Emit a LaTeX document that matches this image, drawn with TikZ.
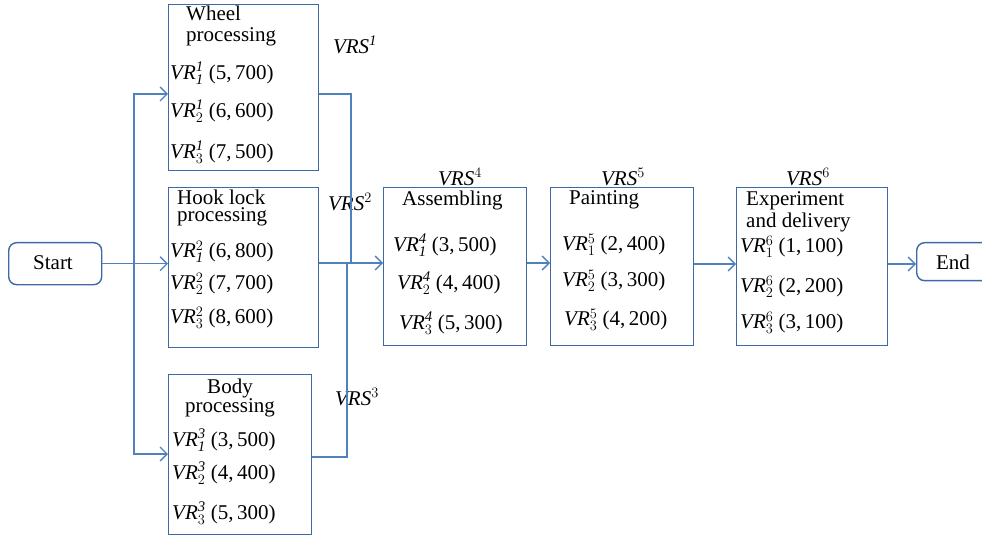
\documentclass[tikz,border=0pt]{standalone}
\usepackage{fontspec}
\setmainfont{Liberation Serif}
\usetikzlibrary{arrows.meta}
\definecolor{boxc}{HTML}{3F68A6}
\definecolor{linec}{HTML}{4F81BD}
\tikzset{
  procbox/.style={draw=boxc, line width=1.4pt, rectangle, inner sep=0pt, anchor=north west},
  term/.style={draw=boxc, line width=1.4pt, rounded corners=8pt, inner sep=0pt, anchor=north west},
  conn/.style={draw=linec, line width=1.3pt},
  arr/.style={conn, -{Straight Barb[length=7pt,width=14pt,line width=1.3pt]}},
  txt/.style={inner sep=0pt, font=\fontsize{21}{22}\selectfont},
  lft/.style={txt, anchor=west},
}
\newcommand\vrl[4]{\textit{VR}$^{#1}_{#2}$ (#3,\,#4)}
\begin{document}
\begin{tikzpicture}[x=1pt,y=-1pt]
\useasboundingbox (0,0) rectangle (982,537);
% boxes
\node[term, minimum width=93pt, minimum height=42pt] (start) at (8,242) {};
\node[txt] (starttxt) at (53,263) {Start};
\node[term, minimum width=80pt, minimum height=38pt] (end) at (916,242) {};
\node[txt] (endtxt) at (953,262) {End};
\node[procbox, minimum width=150pt, minimum height=166pt] (wheel) at (168,4) {};
\node[procbox, minimum width=150pt, minimum height=160pt] (hook) at (168,187) {};
\node[procbox, minimum width=143pt, minimum height=160pt] (body) at (168,374) {};
\node[procbox, minimum width=143pt, minimum height=158pt] (asm) at (383,187) {};
\node[procbox, minimum width=143pt, minimum height=158pt] (paint) at (550,187) {};
\node[procbox, minimum width=151pt, minimum height=158pt] (exp) at (736,187) {};
% texts wheel
\node[lft, align=left, font=\fontsize{21}{21}\selectfont] (w1) at (186,25.5) {Wheel\\processing};
\node[lft] (w3) at (170,73) {\vrl{\mathit{1}}{\mathit{1}}{5}{700}};
\node[lft] (w4) at (170,111) {\vrl{\mathit{1}}{2}{6}{600}};
\node[lft] (w5) at (170,152) {\vrl{\mathit{1}}{3}{7}{500}};
% hook
\node[lft, align=left, font=\fontsize{21}{17.5}\selectfont] (h1) at (177,208) {Hook lock\\processing};
\node[lft] (h3) at (170,252) {\vrl{2}{\mathit{1}}{6}{800}};
\node[lft] (h4) at (170,284) {\vrl{2}{2}{7}{700}};
\node[lft] (h5) at (170,318) {\vrl{2}{3}{8}{600}};
% body
\node[txt, align=center, font=\fontsize{21}{19}\selectfont] (b1) at (230,397.5) {Body\\processing};
\node[lft] (b3) at (172,440) {\vrl{\mathit{3}}{\mathit{1}}{3}{500}};
\node[lft] (b4) at (172,473) {\vrl{\mathit{3}}{2}{4}{400}};
\node[lft] (b5) at (172,513) {\vrl{\mathit{3}}{3}{5}{300}};
% assembling
\node[lft] (a1) at (402,200) {Assembling};
\node[lft] (a3) at (393,245) {\vrl{\mathit{4}}{\mathit{1}}{3}{500}};
\node[lft] (a4) at (397,283) {\vrl{\mathit{4}}{2}{4}{400}};
\node[lft] (a5) at (399,323) {\vrl{\mathit{4}}{3}{5}{300}};
% painting
\node[lft] (p1) at (569,200) {Painting};
\node[lft] (p3) at (562,245) {\vrl{5}{1}{2}{400}};
\node[lft] (p4) at (562,281) {\vrl{5}{2}{3}{300}};
\node[lft] (p5) at (564,320) {\vrl{5}{3}{4}{200}};
% experiment
\node[lft, align=left, font=\fontsize{21}{22}\selectfont] (e1) at (746,212) {Experiment\\and delivery};
\node[lft] (e3) at (740,247) {\vrl{6}{1}{1}{100}};
\node[lft] (e4) at (740,287) {\vrl{6}{2}{2}{200}};
\node[lft] (e5) at (740,323) {\vrl{6}{3}{3}{100}};
% VRS labels
\node[txt] (vrs1) at (355,45) {\textit{VRS}$^{\mathit{1}}$};
\node[txt] (vrs2) at (350,202) {\textit{VRS}$^{2}$};
\node[txt] (vrs3) at (357,397) {\textit{VRS}$^{3}$};
\node[txt] (vrs4) at (460,177) {\textit{VRS}$^{4}$};
\node[txt] (vrs5) at (623,177) {\textit{VRS}$^{5}$};
\node[txt] (vrs6) at (808,177) {\textit{VRS}$^{6}$};
% connectors
\coordinate (split) at (134,263);
\coordinate (j1) at (351,263);
\coordinate (j3) at (347,263);
\draw[arr] (start.east) -- (start.east -| hook.west);
\draw[arr] (split) |- ([yshift=-90pt]wheel.north west);
\draw[arr] (split) |- ([yshift=-80pt]body.north west);
\draw[conn] ([yshift=-90pt]wheel.north east) -| (j1);
\draw[conn] ([yshift=-83pt]body.north east) -| (j3);
\draw[arr] ([yshift=-76pt]hook.north east) -- ([yshift=-76pt]asm.north west);
\draw[arr] ([yshift=-76pt]asm.north east) -- ([yshift=-76pt]paint.north west);
\draw[arr] ([yshift=-77pt]paint.north east) -- ([yshift=-77pt]exp.north west);
\draw[arr] ([yshift=-77pt]exp.north east) -- (end.west |- 0,264);
\end{tikzpicture}
\end{document}
